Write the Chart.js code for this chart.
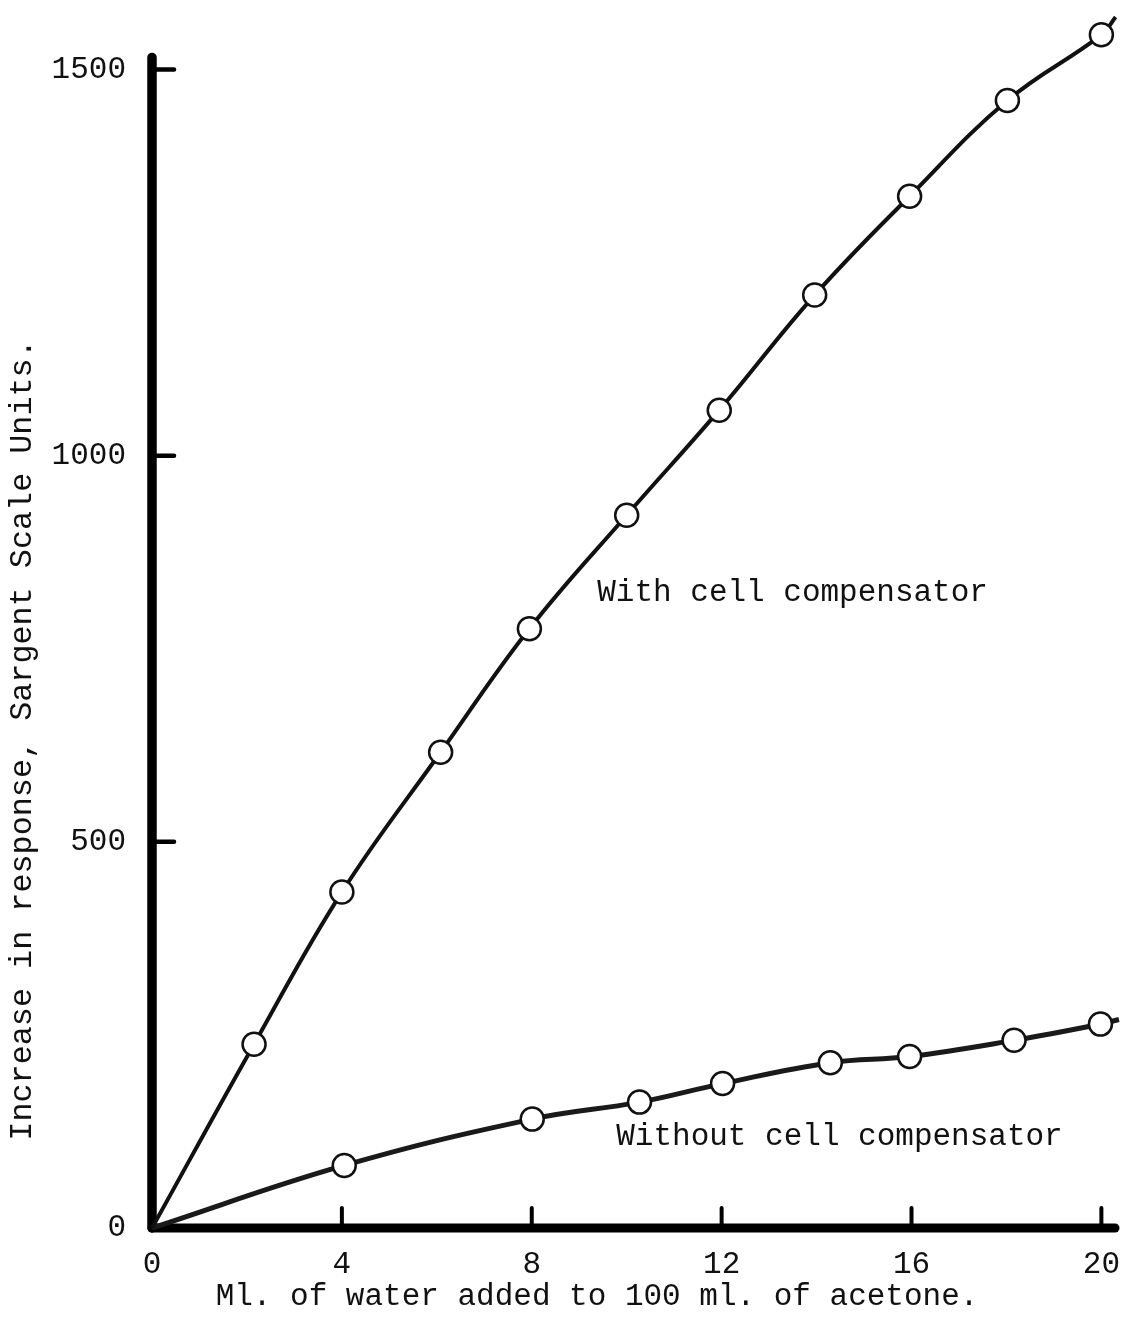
<!DOCTYPE html>
<html>
<head>
<meta charset="utf-8">
<script src="https://cdn.jsdelivr.net/npm/chart.js@4/dist/chart.umd.min.js"></script>
<style>
  html, body { margin: 0; padding: 0; background: #fff; }
  canvas { display: block; }
</style>
</head>
<body>
<canvas id="c" width="1132" height="1327"></canvas>
<script>
// Increase in response (Sargent scale units) against ml. of water added to 100 ml. of acetone
const waterWith = [2.15, 4.0, 6.08, 7.95, 10.0, 11.95, 13.96, 15.96, 18.02, 20.0];
const responseWith = [238, 435, 616, 776, 923, 1059, 1208, 1336, 1460, 1545];
const waterWithout = [4.05, 8.01, 10.27, 12.02, 14.29, 15.96, 18.16, 19.98];
const responseWithout = [81, 141, 163, 187, 214, 222, 243, 264];

// the smooth curves start at the origin and run slightly past the last reading
const curveStart = [0, 0];
const curveEndWith = [20.3, 1568];
const curveEndWithout = [20.37, 270];

const xTicks = [0, 4, 8, 12, 16, 20];
const yTicks = [0, 500, 1000, 1500];
const yAxisTop = 1521;

const xTitle = 'Ml. of water added to 100 ml. of acetone.';
const yTitle = 'Increase in response, Sargent Scale Units.';
const labelWith = 'With cell compensator';
const labelWithout = 'Without cell compensator';

const FONT = '"Liberation Mono", "DejaVu Sans Mono", monospace';
const INK = '#111';

const toPoints = (xs, ys) => xs.map((v, i) => ({ x: v, y: ys[i] }));
const curve = (xs, ys, end) => [
  { x: curveStart[0], y: curveStart[1] },
  ...toPoints(xs, ys),
  { x: end[0], y: end[1] }
];

// heavy axes with rounded ends
const heavyAxes = {
  id: 'heavyAxes',
  beforeDatasetsDraw(chart) {
    const { ctx, chartArea: a, scales: { y } } = chart;
    ctx.save();
    ctx.strokeStyle = '#000';
    ctx.lineCap = 'round';
    ctx.lineWidth = 9.5;
    ctx.beginPath();
    ctx.moveTo(a.left, y.getPixelForValue(yAxisTop) + 4);
    ctx.lineTo(a.left, a.bottom);
    ctx.stroke();
    ctx.lineWidth = 9;
    ctx.beginPath();
    ctx.moveTo(a.left, a.bottom);
    ctx.lineTo(a.right - 3, a.bottom);
    ctx.stroke();
    ctx.restore();
  }
};

// short tick marks pointing into the plot
const inwardTicks = {
  id: 'inwardTicks',
  beforeDatasetsDraw(chart) {
    const { ctx, chartArea: a, scales: { x, y } } = chart;
    ctx.save();
    ctx.strokeStyle = '#000';
    ctx.lineCap = 'round';
    ctx.lineWidth = 4.5;
    yTicks.filter(v => v > 0).forEach(v => {
      const py = y.getPixelForValue(v);
      ctx.beginPath();
      ctx.moveTo(a.left, py);
      ctx.lineTo(a.left + 22, py);
      ctx.stroke();
    });
    ctx.lineWidth = 4;
    xTicks.filter(v => v > 0).forEach(v => {
      const px = x.getPixelForValue(v);
      ctx.beginPath();
      ctx.moveTo(px, a.bottom);
      ctx.lineTo(px, a.bottom - 20);
      ctx.stroke();
    });
    ctx.restore();
  }
};

// curve labels placed in data space
const seriesLabels = {
  id: 'seriesLabels',
  afterDatasetsDraw(chart) {
    const { ctx, scales: { x, y } } = chart;
    ctx.save();
    ctx.fillStyle = INK;
    ctx.font = '31px ' + FONT;
    ctx.textAlign = 'left';
    ctx.textBaseline = 'middle';
    ctx.fillText(labelWith, x.getPixelForValue(9.38), y.getPixelForValue(822));
    ctx.fillText(labelWithout, x.getPixelForValue(9.78), y.getPixelForValue(118));
    ctx.restore();
  }
};

// axis titles
const axisTitles = {
  id: 'axisTitles',
  afterDraw(chart) {
    const { ctx, chartArea: a, scales: { y } } = chart;
    ctx.save();
    ctx.fillStyle = INK;
    ctx.textAlign = 'center';
    ctx.textBaseline = 'middle';
    ctx.font = '31px ' + FONT;
    ctx.fillText(xTitle, a.left + 445, a.bottom + 69);
    ctx.translate(23, y.getPixelForValue(632));
    ctx.rotate(-Math.PI / 2);
    ctx.font = '31.8px ' + FONT;
    ctx.fillText(yTitle, 0, 0);
    ctx.restore();
  }
};

new Chart(document.getElementById('c'), {
  type: 'scatter',
  data: {
    datasets: [
      {
        label: 'With cell compensator (curve)',
        data: curve(waterWith, responseWith, curveEndWith),
        showLine: true,
        borderColor: INK,
        borderWidth: 4,
        pointRadius: 0,
        tension: 0.4,
        clip: false,
        order: 3
      },
      {
        label: 'Without cell compensator (curve)',
        data: curve(waterWithout, responseWithout, curveEndWithout),
        showLine: true,
        borderColor: '#1a1a1a',
        borderWidth: 5,
        pointRadius: 0,
        tension: 0.4,
        clip: false,
        order: 3
      },
      {
        label: labelWith,
        data: toPoints(waterWith, responseWith),
        showLine: false,
        pointRadius: 11.5,
        pointBorderWidth: 2.5,
        pointBackgroundColor: '#fff',
        pointBorderColor: INK,
        clip: false,
        order: 1
      },
      {
        label: labelWithout,
        data: toPoints(waterWithout, responseWithout),
        showLine: false,
        pointRadius: 11.5,
        pointBorderWidth: 2.5,
        pointBackgroundColor: '#fff',
        pointBorderColor: INK,
        clip: false,
        order: 1
      }
    ]
  },
  options: {
    responsive: false,
    animation: false,
    devicePixelRatio: 1,
    events: [],
    layout: { padding: { top: 0, right: 11, left: 0, bottom: 0 } },
    plugins: { legend: { display: false }, tooltip: { enabled: false }, title: { display: false } },
    scales: {
      x: {
        type: 'linear',
        min: 0,
        max: 20.35,
        afterFit: s => { s.height = 99; s.paddingLeft = 0; s.paddingRight = 0; },
        afterBuildTicks: s => { s.ticks = xTicks.map(v => ({ value: v })); },
        grid: { display: false, drawTicks: false },
        border: { display: false },
        ticks: {
          font: { family: FONT, size: 31 },
          color: INK,
          padding: 18,
          maxRotation: 0,
          autoSkip: false,
          callback: v => String(v)
        }
      },
      y: {
        type: 'linear',
        min: 0,
        max: 1572,
        afterFit: s => { s.width = 152; s.paddingTop = 0; s.paddingBottom = 0; },
        afterBuildTicks: s => { s.ticks = yTicks.map(v => ({ value: v })); },
        grid: { display: false, drawTicks: false },
        border: { display: false },
        ticks: {
          font: { family: FONT, size: 31 },
          color: INK,
          padding: 26,
          autoSkip: false,
          callback: v => String(v)
        }
      }
    }
  },
  plugins: [heavyAxes, inwardTicks, seriesLabels, axisTitles]
});
</script>
</body>
</html>
